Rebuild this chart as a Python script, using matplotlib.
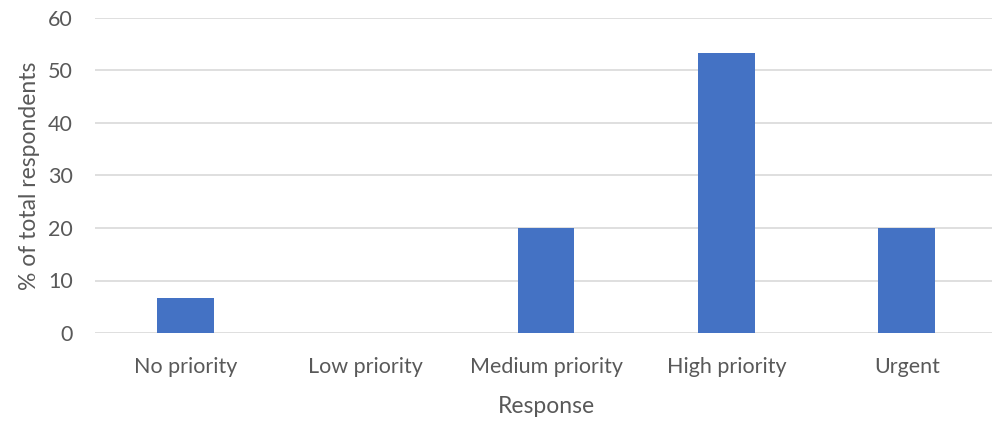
import matplotlib
matplotlib.use("Agg")
import matplotlib.pyplot as plt

categories = ["No priority", "Low priority", "Medium priority", "High priority", "Urgent"]
values = [6.67, 0, 20, 53.33, 20]
yticks = [0, 10, 20, 30, 40, 50, 60]

plt.rcParams['font.family'] = ['Lato', 'DejaVu Sans']
txt = '#595959'

fig = plt.figure(figsize=(9.92, 4.21), dpi=100)
ax = fig.add_axes([95/992, 1 - 333/421, 902/992, 315/421])

x = range(len(categories))
ax.bar(x, values, width=0.315, color='#4472C4', zorder=3)

ax.set_xlim(-0.5, len(categories) - 0.5)
ax.set_ylim(0, 60)
ax.set_yticks(yticks)
ax.set_xticks(list(x))
ax.set_xticklabels(categories)
ax.grid(True, axis='y', color='#d9d9d9', linewidth=1.2, zorder=0)
for s in ax.spines.values():
    s.set_visible(False)
ax.tick_params(axis='both', length=0, colors=txt, labelsize=15.5)
ax.tick_params(axis='x', pad=17)
ax.tick_params(axis='y', pad=16)

ax.set_xlabel("Response", color=txt, fontsize=16.5, labelpad=14)
ax.set_ylabel("% of total respondents", color=txt, fontsize=16.5, labelpad=6)

fig.savefig("out.png", dpi=100)
